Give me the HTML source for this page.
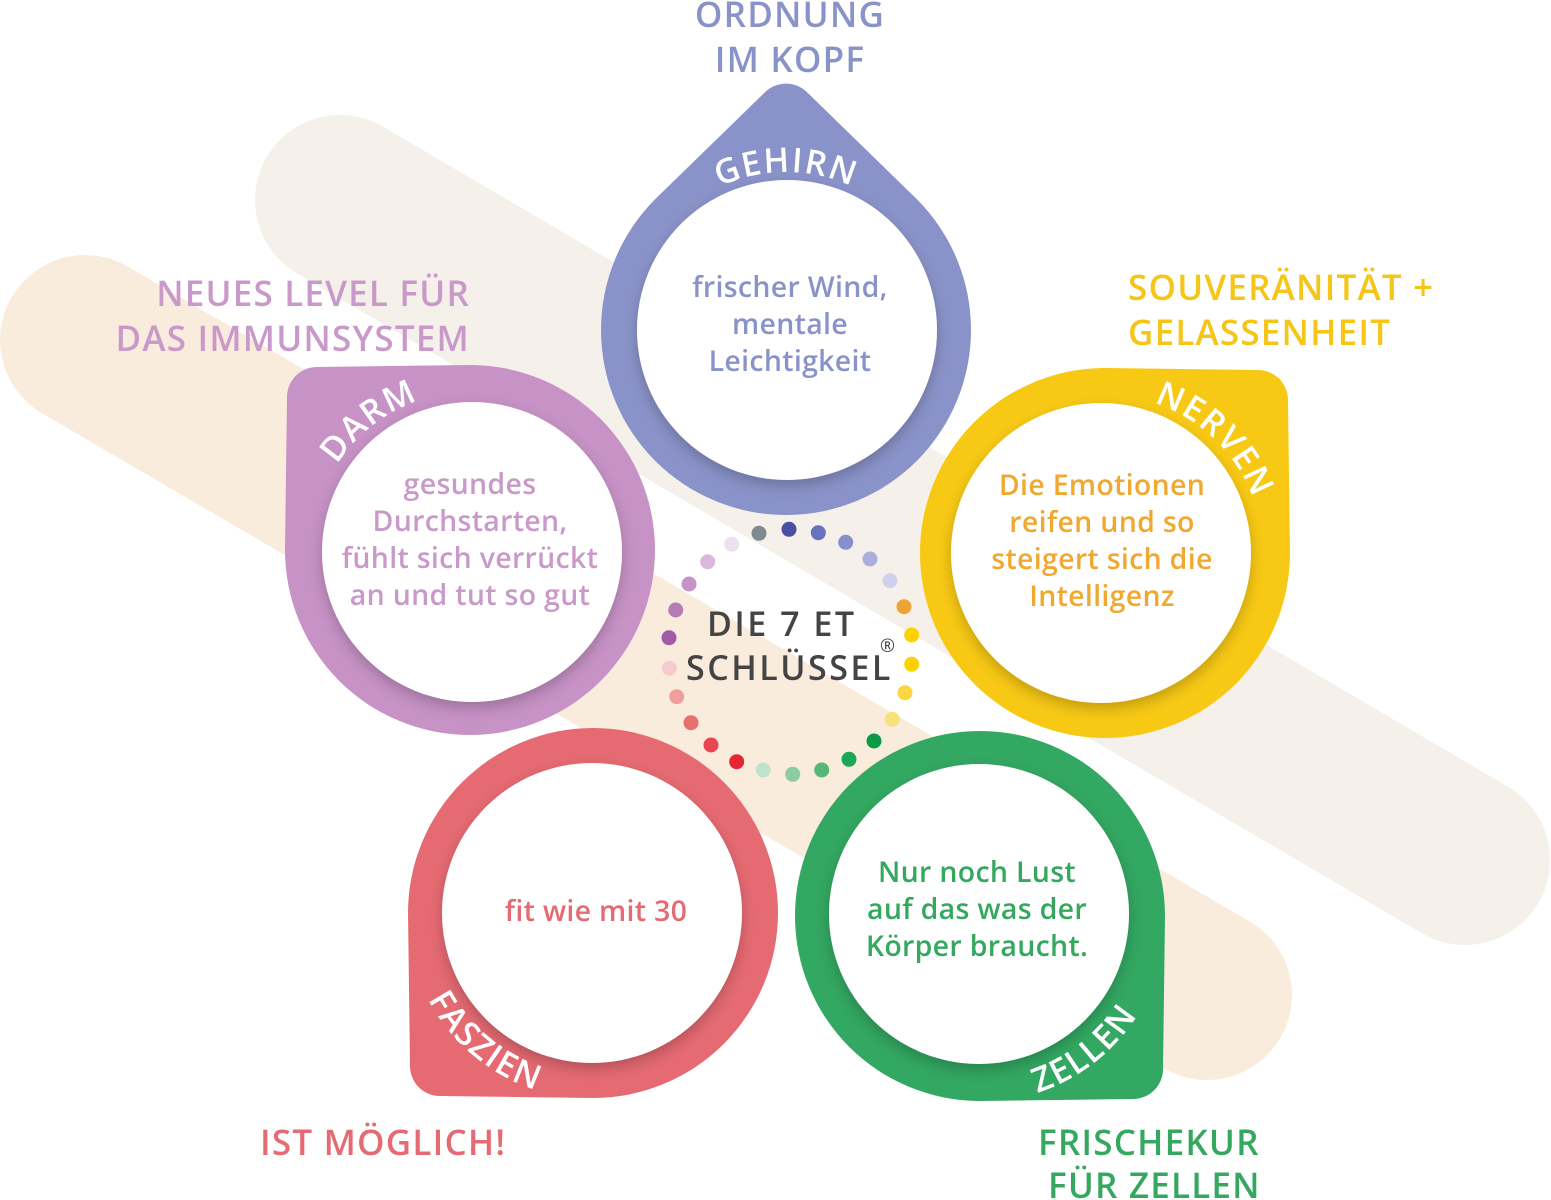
<!DOCTYPE html>
<html><head><meta charset="utf-8"><style>
html,body{margin:0;padding:0;background:#fff;}
svg{display:block;font-family:"Open Sans","Liberation Sans","DejaVu Sans",sans-serif;}
</style></head><body>
<svg width="1551" height="1200" viewBox="0 0 1551 1200" xmlns="http://www.w3.org/2000/svg">
<defs>
<filter id="sh" x="-20%" y="-20%" width="140%" height="140%">
<feDropShadow dx="0" dy="6" stdDeviation="7" flood-color="#000" flood-opacity="0.22"/>
</filter>
<path id="drop" d="M-183,-153 A30,30 0 0 1 -153,-183 L0,-185 A185,185 0 0 1 185,0 A185,185 0 0 1 0,185 A185,185 0 0 1 -185,0 Z"/>
<path id="pG" d="M649.2,251 A158,158 0 0 1 922.8,251"/>
<path id="pD" d="M313.5,572 A158,158 0 0 1 529.2,403.5"/>
<path id="pN" d="M1061.4,401.2 A158,158 0 0 1 1258.3,591.2"/>
<path id="pF" d="M409.8,880.7 A186,186 0 0 0 656.6,1087.8"/>
<path id="pZ" d="M910.3,1088.4 A186,186 0 0 0 1164.2,890.1"/>
</defs>
<line x1="340" y1="200" x2="1465" y2="860" stroke="#f5f0ea" stroke-width="170" stroke-linecap="round"/>
<line x1="85" y1="340" x2="1207" y2="995" stroke="#f9ecdd" stroke-width="170" stroke-linecap="round"/>

<use href="#drop" transform="translate(786,330) rotate(45)" fill="#8a93c9"/>
<use href="#drop" transform="translate(470,550)" fill="#c792c6"/>
<use href="#drop" transform="translate(1105,553) rotate(90)" fill="#f8c914"/>
<use href="#drop" transform="translate(593,913) rotate(270)" fill="#e66a72"/>
<use href="#drop" transform="translate(980,916) rotate(180)" fill="#33a862"/>

<g fill="#fff" filter="url(#sh)">
<circle cx="787" cy="330" r="150"/>
<circle cx="472" cy="552" r="150"/>
<circle cx="1101" cy="553" r="150"/>
<circle cx="592" cy="913" r="150"/>
<circle cx="979" cy="914" r="150"/>
</g>

<g fill="#fff" font-size="34" font-weight="600" letter-spacing="1.5">
<text><textPath href="#pG" startOffset="50%" text-anchor="middle">GEHIRN</textPath></text>
<text><textPath href="#pD" startOffset="50%" text-anchor="middle">DARM</textPath></text>
<text><textPath href="#pN" startOffset="50%" text-anchor="middle">NERVEN</textPath></text>
<text><textPath href="#pF" startOffset="50%" text-anchor="middle">FASZIEN</textPath></text>
<text><textPath href="#pZ" startOffset="50%" text-anchor="middle">ZELLEN</textPath></text>
</g>

<g font-size="28.5" font-weight="600" text-anchor="middle" letter-spacing="0.3">
<g fill="#8a93c9"><text x="790" y="297">frischer Wind,</text><text x="790" y="334">mentale</text><text x="790" y="371">Leichtigkeit</text></g>
<g fill="#c99ac9"><text x="470" y="494">gesundes</text><text x="470" y="531">Durchstarten,</text><text x="470" y="568">fühlt sich verrückt</text><text x="470" y="605">an und tut so gut</text></g>
<g fill="#f0a830"><text x="1102" y="495">Die Emotionen</text><text x="1102" y="532">reifen und so</text><text x="1102" y="569">steigert sich die</text><text x="1102" y="606">Intelligenz</text></g>
<g fill="#e56a72"><text x="596" y="921">fit wie mit 30</text></g>
<g fill="#35a860"><text x="977" y="882">Nur noch Lust</text><text x="977" y="919">auf das was der</text><text x="977" y="956">Körper braucht.</text></g>
</g>

<g font-size="35" font-weight="600" letter-spacing="1.2">
<g fill="#8a93c9" text-anchor="middle"><text x="790" y="27">ORDNUNG</text><text x="790" y="72">IM KOPF</text></g>
<g fill="#c99ac9" text-anchor="end"><text x="470" y="306">NEUES LEVEL FÜR</text><text x="470" y="351">DAS IMMUNSYSTEM</text></g>
<g fill="#f5c518"><text x="1128" y="300">SOUVERÄNITÄT +</text><text x="1128" y="345">GELASSENHEIT</text></g>
<g fill="#e56a72"><text x="260" y="1155">IST MÖGLICH!</text></g>
<g fill="#35a860"><text x="1038" y="1155">FRISCHEKUR</text><text x="1048" y="1198">FÜR ZELLEN</text></g>
</g>

<g fill="#444" font-size="34" font-weight="600" letter-spacing="2.5">
<text x="707" y="636">DIE 7 ET</text>
<text x="686" y="680">SCHLÜSSEL</text>
</g>
<text x="880" y="652" font-size="18" fill="#444">®</text>

<g>
<circle cx="759" cy="533.3" r="7.5" fill="#7d8a8f"/>
<circle cx="789" cy="529.3" r="7.5" fill="#4b4fa0"/>
<circle cx="818.3" cy="532.7" r="7.5" fill="#6a72bd"/>
<circle cx="845.7" cy="542.3" r="7.5" fill="#8690cd"/>
<circle cx="870" cy="559" r="7.5" fill="#a9aedb"/>
<circle cx="890" cy="580.7" r="7.5" fill="#cfd1ec"/>
<circle cx="904" cy="606.7" r="7.5" fill="#efa438"/>
<circle cx="911.7" cy="635" r="7.5" fill="#fcd200"/>
<circle cx="911.7" cy="664.3" r="7.5" fill="#fcd200"/>
<circle cx="905" cy="692.7" r="7.5" fill="#fbd640"/>
<circle cx="892.3" cy="719.3" r="7.5" fill="#f8e27a"/>
<circle cx="874" cy="741" r="7.5" fill="#0a9a45"/>
<circle cx="849" cy="759.3" r="7.5" fill="#1ca657"/>
<circle cx="821.7" cy="770" r="7.5" fill="#56b878"/>
<circle cx="792.7" cy="774.3" r="7.5" fill="#8bcca2"/>
<circle cx="763.3" cy="770" r="7.5" fill="#bfe3cc"/>
<circle cx="736.7" cy="761.7" r="7.5" fill="#e42634"/>
<circle cx="711" cy="745" r="7.5" fill="#e84652"/>
<circle cx="691" cy="722.7" r="7.5" fill="#e7706f"/>
<circle cx="676.7" cy="696.7" r="7.5" fill="#f19e9f"/>
<circle cx="669.3" cy="668.3" r="7.5" fill="#f7cbcd"/>
<circle cx="669" cy="637.7" r="7.5" fill="#a15aa5"/>
<circle cx="675.7" cy="610" r="7.5" fill="#b47cb6"/>
<circle cx="689" cy="584" r="7.5" fill="#c693c8"/>
<circle cx="707.7" cy="561.7" r="7.5" fill="#dab8db"/>
<circle cx="731.7" cy="544.3" r="7.5" fill="#ede0ef"/>
</g>
</svg>
</body></html>
